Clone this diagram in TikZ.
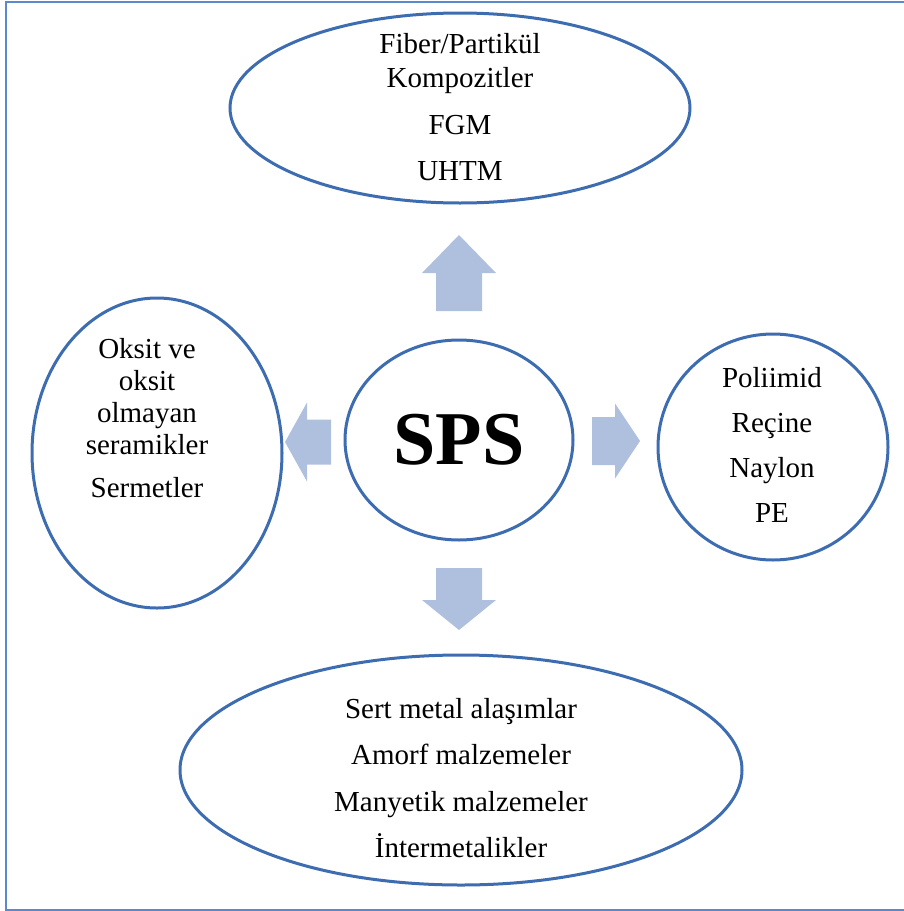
\documentclass[tikz,border=0pt]{standalone}
\usepackage{fontspec}
\setmainfont{Liberation Serif}
\usetikzlibrary{shapes.geometric}

\definecolor{ringblue}{HTML}{3D6DB0}
\definecolor{arrowfill}{HTML}{AEC0DD}
\definecolor{framecol}{HTML}{5A8ACB}

\tikzset{
  blob/.style={ellipse, draw=ringblue, line width=3pt, inner sep=0pt},
  lbl/.style={align=center, inner sep=0pt, anchor=north},
}

\begin{document}
\begin{tikzpicture}[x=1pt, y=-1pt]
\useasboundingbox (0,0) rectangle (904,911);
\draw[framecol, line width=1.5pt](904,2)--(6,2)--(6,910)--(904,910);

% ellipses
\node[blob, minimum width=228pt, minimum height=200pt,
      font=\fontsize{76}{76}\selectfont\bfseries] (sps) at (459,440) {SPS};
\node[blob, minimum width=460pt, minimum height=190pt] (top) at (460,108) {};
\node[blob, minimum width=250pt, minimum height=310pt] (left) at (157,453) {};
\node[blob, minimum width=230pt, minimum height=226pt] (right) at (773,447) {};
\node[blob, minimum width=562pt, minimum height=230pt] (bottom) at (461,770) {};

% texts
\node[lbl, font=\fontsize{29}{34}\selectfont] (toptext) at (460,33)
  {Fiber/Partikül\\Kompozitler\\[13pt]FGM\\[12pt]UHTM};
\node[lbl, font=\fontsize{29}{32}\selectfont] (lefttext) at (147,338)
  {Oksit ve\\oksit\\olmayan\\seramikler\\[11pt]Sermetler};
\node[lbl, font=\fontsize{29}{45}\selectfont] (righttext) at (772,367)
  {Poliimid\\Reçine\\Naylon\\PE};
\node[lbl, font=\fontsize{29}{46.5}\selectfont] (bottomtext) at (461,698)
  {Sert metal alaşımlar\\Amorf malzemeler\\Manyetik malzemeler\\İntermetalikler};

% block arrows: head base x/y, angle, length, head length, head half width, shaft half width
\foreach \cx/\cy/\ang/\len/\hl/\hw/\sw in {459/273/90/76/38/37/23, 459/600/270/62/30/37/23,
                                           307/442/180/46/22/39.5/22.5, 615/441/0/48/25/37.5/24}{
  \fill[arrowfill, shift={(\cx,\cy)}, rotate=\ang]
    (-\len+\hl,-\sw)--(0,-\sw)--(0,-\hw)--(\hl,0)--(0,\hw)--(0,\sw)--(-\len+\hl,\sw)--cycle;
}
\end{tikzpicture}
\end{document}
